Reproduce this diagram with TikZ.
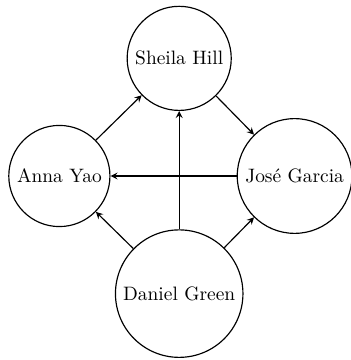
\documentclass[tikz,border=0pt]{standalone}
\usepackage{amsmath}
\usepackage{amssymb}

\begin{document}
\begin{tikzpicture}[scale=1]
%cadre
\useasboundingbox (-3.205,-3.332) rectangle (3.133,3.187);

\tikzset{personne/.style={draw, circle, semithick}}

%les personnes
\node[personne] (sheila) at (0.04,2.13) {Sheila Hill};
\node[personne] (anna) at (-2.13,0) {Anna Yao};
\node[personne] (jose) at (2.13,0) {Jos\'e Garcia};
\node[personne] (daniel) at (0.04,-2.13) {Daniel Green};

%les liens
\draw[semithick,->,>=stealth] (anna) -- (sheila);
\draw[semithick,->,>=stealth] (sheila) -- (jose);
\draw[semithick,->,>=stealth] (jose) -- (anna);
\draw[semithick,->,>=stealth] (daniel) -- (anna);
\draw[semithick,->,>=stealth] (daniel) -- (sheila);
\draw[semithick,->,>=stealth] (daniel) -- (jose);

\end{tikzpicture}
\end{document}
